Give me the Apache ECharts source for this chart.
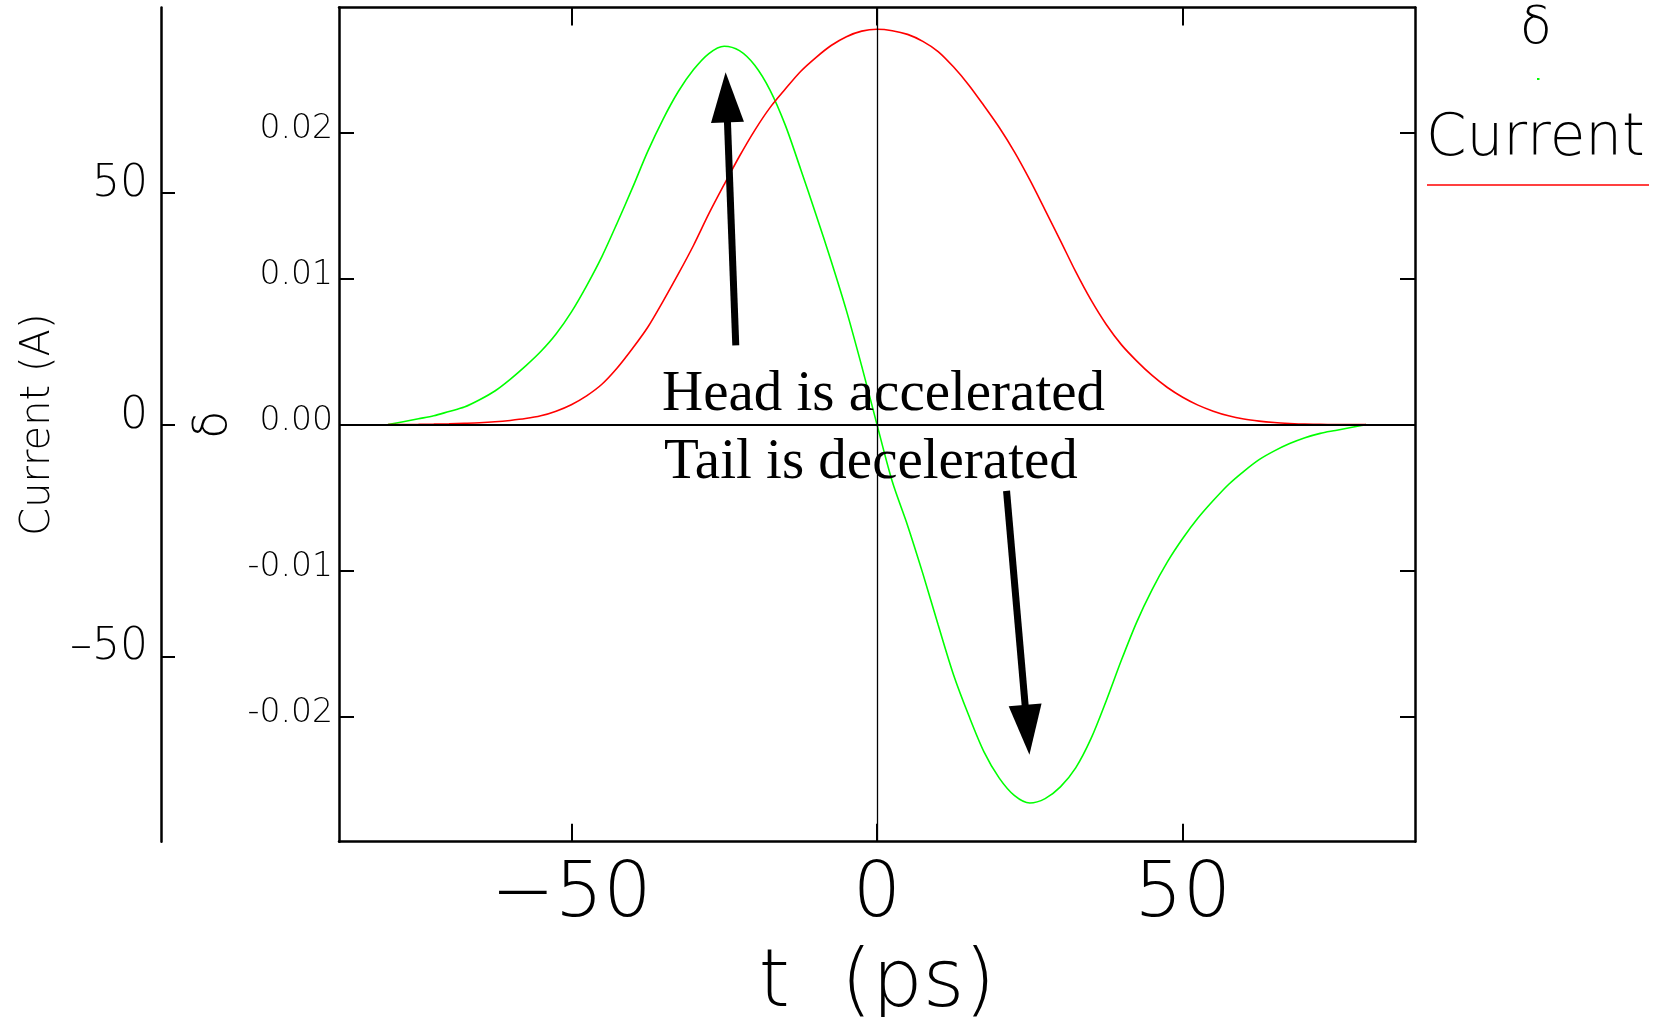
<!DOCTYPE html>
<html>
<head>
<meta charset="utf-8">
<script src="https://cdn.jsdelivr.net/npm/echarts@6/dist/echarts.min.js"></script>
<style>
html,body{margin:0;padding:0;background:#fff;}
#chart{width:1656px;height:1017px;}
</style>
</head>
<body>
<div id="chart"></div>
<script>
// ---- data (every 2.5 ps) ----
const tValues = [-80,-77.5,-75,-72.5,-70,-67.5,-65,-62.5,-60,-57.5,-55,-52.5,-50,-47.5,-45,-42.5,-40,-37.5,-35,-32.5,-30,-27.5,-25,-22.5,-20,-17.5,-15,-12.5,-10,-7.5,-5,-2.5,0,2.5,5,7.5,10,12.5,15,17.5,20,22.5,25,27.5,30,32.5,35,37.5,40,42.5,45,47.5,50,52.5,55,57.5,60,62.5,65,67.5,70,72.5,75,77.5,80];
// delta (green), relative energy deviation
const deltaValues = [0,0.0002,0.0004,0.0006,0.0009,0.0012,0.0017,0.0023,0.0031,0.0040,0.0050,0.0062,0.0077,0.0095,0.0115,0.0138,0.0162,0.0187,0.0209,0.0228,0.0243,0.0254,0.0259,0.0256,0.0246,0.0229,0.0205,0.0175,0.0144,0.0112,0.0078,0.0040,0,-0.0039,-0.0069,-0.0102,-0.0137,-0.0171,-0.0199,-0.0224,-0.0242,-0.0254,-0.0259,-0.0256,-0.0248,-0.0235,-0.0215,-0.0189,-0.0161,-0.0135,-0.0113,-0.0094,-0.0078,-0.0064,-0.0052,-0.0041,-0.0032,-0.0024,-0.0018,-0.0013,-0.0009,-0.0006,-0.0004,-0.0002,0];
// current (red), A
const currentValues = [0,0.02,0.05,0.1,0.18,0.28,0.4,0.6,0.9,1.3,1.9,2.9,4.3,6.2,8.7,12.2,16.4,21.0,26.6,32.5,38.7,45.5,51.8,57.9,63.5,68.4,72.4,76.2,79.2,81.8,83.7,84.9,85.3,85.0,84.2,82.7,80.5,77.2,73.3,68.8,64.1,58.8,52.8,46.3,39.7,33.0,26.9,21.6,17.2,13.7,10.6,8.0,5.9,4.2,2.9,1.9,1.2,0.75,0.45,0.25,0.1,0.05,0.02,0.01,0];
const xTicks = [-50, 0, 50];
const deltaTicks = [-0.02, -0.01, 0, 0.01, 0.02];
const currentTicks = [-50, 0, 50];
const xRange = [-88, 88];
const deltaRange = [-0.02855, 0.02855];
const currentRange = [-90, 90];
// annotation arrows in data space (t, delta): tail -> head
const arrowTails = [[-23.1, 0.00543], [21.19, -0.00454]];
const arrowHeads = [[-24.61, 0.0224], [24.58, -0.02089]];
const notes = ['Head is accelerated', 'Tail is decelerated'];

const FONT = '"DejaVu Sans", sans-serif';
const fmtX = v => (v < 0 ? '\u2212' : '') + Math.abs(v);
const fmtCur = v => (v < 0 ? '\u2013' : '') + Math.abs(v);
const fmtDelta = v => (v < -1e-9 ? '-' : '') + Math.abs(v).toFixed(2);

const chart = echarts.init(document.getElementById('chart'), null, {renderer: 'canvas'});

const arrowData = arrowTails.map((a, i) => [
  {coord: a, symbol: 'none', lineStyle: {color: '#000', width: 7, type: 'solid'}},
  {coord: arrowHeads[i], symbol: 'triangle', symbolSize: [33, 50], lineStyle: {color: '#000', width: 7, type: 'solid'}}
]);

const option = {
  backgroundColor: '#fff',
  animation: false,
  grid: {left: 339, top: 7.5, right: 241, bottom: 175.3, containLabel: false, outerBoundsMode: 'none'},
  xAxis: [
    {
      type: 'value', position: 'bottom', min: xRange[0], max: xRange[1],
      axisLine: {show: true, onZero: false, lineStyle: {color: '#000', width: 2.5}},
      axisTick: {show: true, inside: true, length: 18, customValues: xTicks, lineStyle: {color: '#000', width: 2}},
      axisLabel: {show: true, customValues: xTicks, formatter: fmtX, margin: 17, color: '#000', fontSize: 76, fontFamily: FONT, fontWeight: 200},
      splitLine: {show: false},
      name: 't  (ps)', nameLocation: 'middle', nameGap: 104,
      nameTextStyle: {color: '#000', fontSize: 80, fontFamily: FONT, fontWeight: 200}
    },
    {
      type: 'value', position: 'top', min: xRange[0], max: xRange[1],
      axisLine: {show: true, onZero: false, lineStyle: {color: '#000', width: 2.5}},
      axisTick: {show: true, inside: true, length: 18, customValues: xTicks, lineStyle: {color: '#000', width: 2}},
      axisLabel: {show: false},
      splitLine: {show: false}
    }
  ],
  yAxis: [
    {
      type: 'value', position: 'left', min: deltaRange[0], max: deltaRange[1],
      axisLine: {show: true, onZero: false, lineStyle: {color: '#000', width: 2.5}},
      axisTick: {show: true, inside: true, length: 15, customValues: deltaTicks, lineStyle: {color: '#000', width: 2}},
      axisLabel: {show: true, customValues: deltaTicks, formatter: fmtDelta, margin: 6, color: '#000', fontSize: 33, fontFamily: FONT, fontWeight: 200, verticalAlign: 'bottom', lineHeight: 6},
      splitLine: {show: false},
      name: '\u03b4', nameLocation: 'middle', nameGap: 102, nameRotate: 90, nameMoveOverlap: false,
      nameTextStyle: {color: '#000', fontSize: 46, fontFamily: FONT, fontWeight: 200}
    },
    {
      type: 'value', position: 'left', offset: 178, min: currentRange[0], max: currentRange[1],
      axisLine: {show: true, onZero: false, lineStyle: {color: '#000', width: 2.5}},
      axisTick: {show: true, inside: true, length: 14, customValues: currentTicks, lineStyle: {color: '#000', width: 2}},
      axisLabel: {show: true, customValues: currentTicks, formatter: fmtCur, margin: 13, color: '#000', fontSize: 44, fontFamily: FONT, fontWeight: 200, verticalAlign: 'bottom', lineHeight: 17},
      splitLine: {show: false},
      name: 'Current (A)', nameLocation: 'middle', nameGap: 102, nameRotate: 90, nameMoveOverlap: false,
      nameTextStyle: {color: '#000', fontSize: 40, fontFamily: FONT, fontWeight: 200}
    },
    {
      type: 'value', position: 'right', min: deltaRange[0], max: deltaRange[1],
      axisLine: {show: true, onZero: false, lineStyle: {color: '#000', width: 2.5}},
      axisTick: {show: true, inside: true, length: 15, customValues: deltaTicks, lineStyle: {color: '#000', width: 2}},
      axisLabel: {show: false},
      splitLine: {show: false}
    }
  ],
  series: [
    {
      name: '\u03b4', type: 'line', xAxisIndex: 0, yAxisIndex: 0,
      data: tValues.map((t, i) => [t, deltaValues[i]]),
      smooth: 0.3, showSymbol: false, symbol: 'none',
      lineStyle: {color: '#00ff00', width: 1.6},
      z: 3,
      markLine: {
        silent: true, symbol: 'none', animation: false,
        label: {show: false},
        data: [
          {xAxis: 0, lineStyle: {color: '#000', width: 1.3, type: 'solid'}},
          {yAxis: 0, lineStyle: {color: '#000', width: 2.2, type: 'solid'}}
        ].concat(arrowData)
      }
    },
    {
      name: 'Current', type: 'line', xAxisIndex: 0, yAxisIndex: 1,
      data: tValues.map((t, i) => [t, currentValues[i]]),
      smooth: 0.3, showSymbol: false, symbol: 'none',
      lineStyle: {color: '#ff0000', width: 1.6},
      z: 4
    }
  ],
  graphic: [
    {type: 'text', x: 662, y: 395, z: 10,
     style: {text: notes[0], font: '57px "Liberation Serif", "Times New Roman", serif', fill: '#000', align: 'left', verticalAlign: 'middle'}},
    {type: 'text', x: 664, y: 463, z: 10,
     style: {text: notes[1], font: '57px "Liberation Serif", "Times New Roman", serif', fill: '#000', align: 'left', verticalAlign: 'middle'}},
    {type: 'text', x: 1536, y: 29, z: 10,
     style: {text: '\u03b4', font: '200 52px "DejaVu Sans", sans-serif', fill: '#000', align: 'center', verticalAlign: 'middle'}},
    {type: 'line', z: 10, shape: {x1: 1537, y1: 79, x2: 1539.5, y2: 79}, style: {stroke: '#00ff00', lineWidth: 2}},
    {type: 'text', x: 1426, y: 140, z: 10,
     style: {text: 'Current', font: '200 58px "DejaVu Sans", sans-serif', fill: '#000', align: 'left', verticalAlign: 'middle'}},
    {type: 'line', z: 10, shape: {x1: 1427, y1: 185, x2: 1649, y2: 185}, style: {stroke: '#ff0000', lineWidth: 1.5}}
  ]
};
chart.setOption(option);
</script>
</body>
</html>
